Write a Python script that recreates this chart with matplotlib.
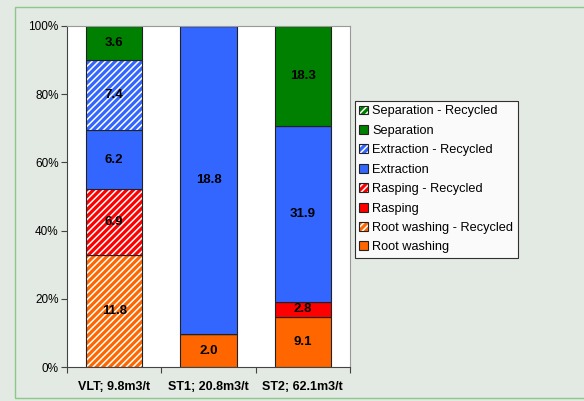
import numpy as np
import matplotlib.pyplot as plt
from matplotlib.patches import Patch, Rectangle
from matplotlib.legend_handler import HandlerTuple

plt.rcParams['font.family'] = ['Liberation Sans', 'DejaVu Sans']
plt.rcParams['hatch.linewidth'] = 1.1

# data (m3/t), stacked bottom -> top
categories = ["VLT; 9.8m3/t", "ST1; 20.8m3/t", "ST2; 62.1m3/t"]
series = ["Root washing", "Root washing - Recycled", "Rasping", "Rasping - Recycled",
          "Extraction", "Extraction - Recycled", "Separation", "Separation - Recycled"]
root_washing = [0.0, 2.0, 9.1]
root_washing_rec = [11.8, 0.0, 0.0]
rasping = [0.0, 0.0, 2.8]
rasping_rec = [6.9, 0.0, 0.0]
extraction = [6.2, 18.8, 31.9]
extraction_rec = [7.4, 0.0, 0.0]
separation = [3.6, 0.0, 18.3]
separation_rec = [0.0, 0.0, 0.0]

values = [root_washing, root_washing_rec, rasping, rasping_rec,
          extraction, extraction_rec, separation, separation_rec]
colors = ['#FF6600', '#FF6600', '#FF0000', '#FF0000',
          '#3366FF', '#3366FF', '#008000', '#008000']
hatched = [False, True, False, True, False, True, False, True]

bg = '#E3E9E3'
fig = plt.figure(figsize=(5.84, 4.01), dpi=100, facecolor=bg)
fig.patches.append(Rectangle((15 / 584, 3 / 401), 1.0, 391 / 401, transform=fig.transFigure,
                             fill=False, edgecolor='#8CC88C', linewidth=1.0))
ax = fig.add_axes([67 / 584, 34 / 401, 283 / 584, 341 / 401])
ax.set_facecolor('white')

vals = np.array(values)
totals = vals.sum(axis=0)
pct = vals / totals * 100
x = np.arange(len(categories))
bottom = np.zeros(len(categories))
width = 0.6
hatch = '/////'
for i in range(len(series)):
    h = pct[i]
    if hatched[i]:
        ax.bar(x, h, width, bottom=bottom, color=colors[i], edgecolor='white',
               hatch=hatch, linewidth=0)
        ax.bar(x, h, width, bottom=bottom, fill=False, edgecolor='#222222', linewidth=0.8)
    else:
        ax.bar(x, h, width, bottom=bottom, color=colors[i], edgecolor='#222222', linewidth=0.8)
    for j in range(len(categories)):
        if vals[i][j] > 0:
            ax.text(x[j], bottom[j] + h[j] / 2, f"{vals[i][j]:.1f}", ha='center', va='center',
                    fontsize=9.5, fontweight='bold', color='black')
    bottom += h

ax.set_xlim(-0.5, 2.5)
ax.set_ylim(0, 100)
ax.set_yticks(np.arange(0, 101, 20))
ax.set_yticklabels([f"{v}%" for v in range(0, 101, 20)], fontsize=8.5)
ax.set_xticks([-0.5, 0.5, 1.5, 2.5])
ax.set_xticklabels([])
ax.set_xticks(x, minor=True)
ax.set_xticklabels(categories, minor=True, fontsize=9, fontweight='bold')
ax.tick_params(axis='x', which='minor', length=0, pad=10)
ax.tick_params(axis='x', which='major', length=4, color='#444444')
ax.tick_params(axis='y', length=4, color='#444444', pad=2)
for s in ['left', 'bottom']:
    ax.spines[s].set_color('#444444')
for s in ['top', 'right']:
    ax.spines[s].set_color('#999999')

# legend, top entry = last series
handles = []
for i in range(len(series)):
    if hatched[i]:
        handles.append((Patch(facecolor=colors[i], edgecolor='white', hatch=hatch, linewidth=0),
                        Patch(fill=False, edgecolor='#222222', linewidth=0.8)))
    else:
        handles.append(Patch(facecolor=colors[i], edgecolor='#222222', linewidth=0.8))
leg = fig.legend(handles[::-1], series[::-1], loc='upper left',
                 bbox_to_anchor=(355 / 584, 1 - 101 / 401),
                 handler_map={tuple: HandlerTuple(ndivide=1)},
                 fontsize=9.2, frameon=True, fancybox=False, edgecolor='black',
                 handlelength=0.7, handleheight=0.7, handletextpad=0.3,
                 labelspacing=0.58, borderpad=0.35, borderaxespad=0)
leg.get_frame().set_linewidth(0.8)

fig.savefig('out.png', dpi=100, facecolor=bg)
